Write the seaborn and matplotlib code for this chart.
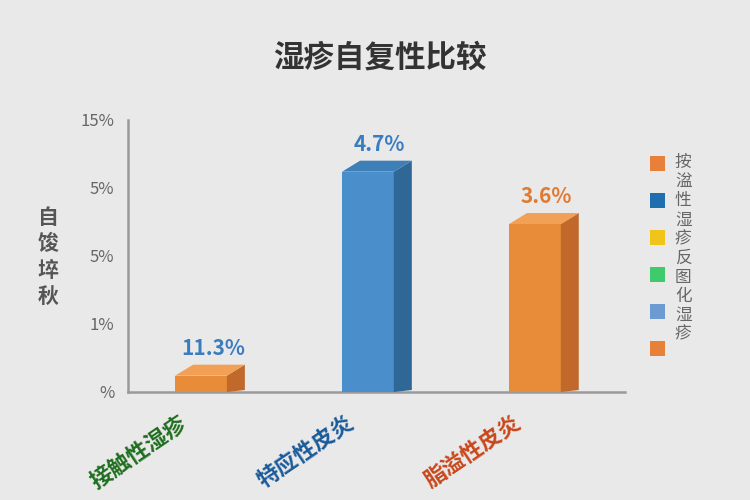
import numpy as np
import pandas as pd
import matplotlib
matplotlib.use('Agg')
import matplotlib.pyplot as plt
from matplotlib.patches import Polygon, Rectangle
import seaborn as sb

# chart data (bar heights read in tick units of the axis)
categories = ['接触性湿疹', '特应性皮炎', '脂溢性皮炎']
heights = [0.24, 3.24, 2.47]
value_labels = ['11.3%', '4.7%', '3.6%']
ytick_values = [0, 1, 2, 3, 4]
ytick_labels = ['%', '1%', '5%', '5%', '15%']
legend_colors = ['#e8803a', '#1f6fb0', '#f0c419', '#3fca6c', '#6b9bd0', '#e8803a']
legend_text = '按湓性湿疹反图化湿疹'

front_colors = ['#e88c3a', '#4a8ecb', '#e88c3a']
side_colors = ['#c0692a', '#2f6796', '#c0692a']
top_colors = ['#f2a055', '#3f7fb8', '#f2a055']
value_colors = ['#3a7cc0', '#3a7cc0', '#e07a30']
tick_colors = ['#1e6e1e', '#1a5a9a', '#c8461a']

sb.set_style('white')
plt.rcParams['font.family'] = ['Noto Sans CJK SC', 'DejaVu Sans']

bg = '#e9e9e9'
fig = plt.figure(figsize=(7.5, 5), dpi=100, facecolor=bg)
ax = fig.add_axes([0.1707, 0.216, 0.6627, 0.544], facecolor=bg)

df = pd.DataFrame({'cat': categories, 'h': heights})
sb.barplot(data=df, x='cat', y='h', hue='cat', palette=front_colors,
           saturation=1, width=0.31, legend=False, ax=ax, zorder=3,
           edgecolor='none', linewidth=0)
ax.set_xlim(-0.437, 2.54)
ax.set_ylim(0, 4)

ax.set_yticks(ytick_values)
ax.set_yticklabels(ytick_labels, fontsize=12, color='#666666')
ax.tick_params(axis='y', length=0, pad=10)
ax.set_xticks([])
ax.set_xlabel('')
ax.set_ylabel('')
for s in ['top', 'right']:
    ax.spines[s].set_visible(False)
for s in ['left', 'bottom']:
    ax.spines[s].set_color('#9a9a9a')
    ax.spines[s].set_linewidth(1.8)

# fake 3d: side and top faces, offset in pixels
dx, dy = 18, 11
fig.canvas.draw()
for i, p in enumerate(ax.patches):
    x0, w, h = p.get_x(), p.get_width(), p.get_height()
    (ax0, ay0), (ax1, ay1) = ax.transData.transform([(x0, 0), (x0 + w, h)])
    side = [(ax1, ay0), (ax1, ay1), (ax1 + dx, ay1 + dy), (ax1 + dx, ay0 + 2)]
    top = [(ax0, ay1), (ax1, ay1), (ax1 + dx, ay1 + dy), (ax0 + dx, ay1 + dy)]
    for pts, c in [(side, side_colors[i]), (top, top_colors[i])]:
        pts = np.array(pts) / fig.dpi
        fig.add_artist(Polygon(pts, closed=True, facecolor=c, edgecolor='none',
                               transform=fig.dpi_scale_trans, zorder=4))
    ax.annotate(value_labels[i], (x0 + w / 2, h), xytext=(dx / 2 * 0.72 + 2, 12),
                textcoords='offset points', ha='center', va='bottom',
                fontsize=15, fontweight='bold', color=value_colors[i])

# rotated category labels
for i, cat in enumerate(categories):
    ax.annotate(cat, (i, 0), xytext=(-16, -14), textcoords='offset points',
                ha='right', va='top', rotation=34, rotation_mode='anchor',
                fontsize=16, fontweight='bold', color=tick_colors[i])

fig.text(0.507, 0.884, '湿疹自复性比较', ha='center', va='center',
         fontsize=22, fontweight='bold', color='#333333')
fig.text(0.064, 0.486, '\n'.join('自馂埣秋'), ha='center', va='center',
         fontsize=15, fontweight='bold', color='#555555', linespacing=1.3)

# legend squares and vertical text
for k, c in enumerate(legend_colors):
    yc = 1 - (163 + 37 * k) / 500
    fig.add_artist(Rectangle((650 / 750, yc - 0.015), 15 / 750, 0.03,
                             facecolor=c, edgecolor='none', transform=fig.transFigure))
fig.text(0.911, 0.503, '\n'.join(legend_text), ha='center', va='center',
         fontsize=12, color='#666666', linespacing=1.16)

fig.savefig('out.png', dpi=100, facecolor=bg)
